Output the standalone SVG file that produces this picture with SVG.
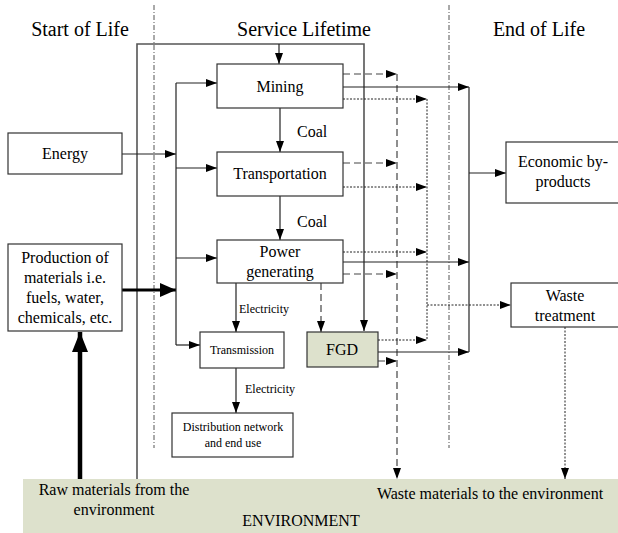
<svg xmlns="http://www.w3.org/2000/svg" width="618" height="533" viewBox="0 0 618 533" font-family="'Liberation Serif', 'DejaVu Serif', serif">
<style>
text{font-family:'Liberation Serif','DejaVu Serif',serif;fill:#000}
.t{font-size:20px}
.m{font-size:16px}
.s{font-size:12px}
.box{fill:#fff;stroke:#333;stroke-width:1.2}
.g{fill:#dde1cc;stroke:#333;stroke-width:1.2}
.ln{fill:none;stroke:#222;stroke-width:1.2}
.gr{fill:none;stroke:#555;stroke-width:1.6}
.da{fill:none;stroke:#444;stroke-width:1.2;stroke-dasharray:7 4}
.do{fill:none;stroke:#222;stroke-width:1;stroke-dasharray:2 1.5}
.dv{fill:none;stroke:#555;stroke-width:1;stroke-dasharray:5 2 1 2}
</style>
<defs>
<marker id="a" markerUnits="userSpaceOnUse" markerWidth="11" markerHeight="8" refX="11" refY="4" orient="auto"><path d="M0,0L11,4L0,8z" fill="#000"/></marker>
<marker id="b" markerUnits="userSpaceOnUse" markerWidth="16" markerHeight="14" refX="16" refY="7" orient="auto"><path d="M0,0L16,7L0,14z" fill="#000"/></marker>
<marker id="c" markerUnits="userSpaceOnUse" markerWidth="20" markerHeight="16" refX="20" refY="8" orient="auto"><path d="M0,0L20,8L0,16z" fill="#000"/></marker>
</defs>

<rect id="environment" x="23" y="479" width="595" height="54" fill="#dde1cc"/>

<g id="dividers">
<line class="dv" x1="154" y1="5" x2="154" y2="448"/>
<line class="dv" x1="449" y1="5" x2="449" y2="448"/>
</g>

<g id="titles">
<text class="t" x="80" y="36" text-anchor="middle">Start of Life</text>
<text class="t" x="304" y="36" text-anchor="middle">Service Lifetime</text>
<text class="t" x="539" y="36" text-anchor="middle">End of Life</text>
</g>

<g id="connectors">
<path class="gr" d="M137,479V44H364V331" marker-end="url(#a)"/>
<path class="ln" d="M279,44V64" marker-end="url(#a)"/>
<path class="ln" d="M122,154H176" marker-end="url(#a)"/>
<path d="M122,290H176" fill="none" stroke="#000" stroke-width="3" marker-end="url(#b)"/>
<path d="M80,479V332" fill="none" stroke="#000" stroke-width="4.5" marker-end="url(#c)"/>
<path class="ln" d="M176,83V345"/>
<path class="ln" d="M176,83H217" marker-end="url(#a)"/>
<path class="ln" d="M176,168H217" marker-end="url(#a)"/>
<path class="ln" d="M176,258H217" marker-end="url(#a)"/>
<path class="ln" d="M176,345H200" marker-end="url(#a)"/>
<path class="ln" d="M280,108V152" marker-end="url(#a)"/>
<path class="ln" d="M280,196V240" marker-end="url(#a)"/>
<path class="ln" d="M236,283V332" marker-end="url(#a)"/>
<path class="ln" d="M236,368V413" marker-end="url(#a)"/>
<path class="da" d="M321,283V332" marker-end="url(#a)"/>
<path class="da" d="M343,74H397" marker-end="url(#a)"/>
<path class="da" d="M343,163H397" marker-end="url(#a)"/>
<path class="da" d="M343,274H397" marker-end="url(#a)"/>
<path class="da" d="M378,361H397" marker-end="url(#a)"/>
<path class="da" d="M397,74V479" marker-end="url(#a)"/>
<path class="do" d="M343,99H427" marker-end="url(#a)"/>
<path class="do" d="M343,187H427" marker-end="url(#a)"/>
<path class="do" d="M343,252H427" marker-end="url(#a)"/>
<path class="do" d="M378,340H427" marker-end="url(#a)"/>
<path class="do" d="M427,99V340"/>
<path class="do" d="M427,305H511" marker-end="url(#a)"/>
<path class="do" d="M565,327V479" marker-end="url(#a)"/>
<path class="ln" d="M343,87H469" marker-end="url(#a)"/>
<path class="ln" d="M343,262H469" marker-end="url(#a)"/>
<path class="ln" d="M378,352H469" marker-end="url(#a)"/>
<path class="ln" d="M469,87V352"/>
<path class="ln" d="M469,173H506" marker-end="url(#a)"/>
</g>

<g id="labels">
<text class="m" x="297" y="137">Coal</text>
<text class="m" x="297" y="227">Coal</text>
<text class="s" x="239" y="313">Electricity</text>
<text class="s" x="245" y="393">Electricity</text>
</g>

<g id="energy"><rect class="box" x="8" y="133" width="114" height="41"/><text class="m" x="65" y="159" text-anchor="middle">Energy</text></g>
<g id="production"><rect class="box" x="8" y="244" width="114" height="87"/>
<text class="m" x="65" y="263" text-anchor="middle">Production of</text>
<text class="m" x="65" y="283" text-anchor="middle">materials i.e.</text>
<text class="m" x="65" y="303" text-anchor="middle">fuels, water,</text>
<text class="m" x="65" y="323" text-anchor="middle">chemicals, etc.</text></g>
<g id="mining"><rect class="box" x="217" y="64" width="126" height="44"/><text class="m" x="280" y="92" text-anchor="middle">Mining</text></g>
<g id="transportation"><rect class="box" x="217" y="152" width="126" height="44"/><text class="m" x="280" y="179" text-anchor="middle">Transportation</text></g>
<g id="power"><rect class="box" x="217" y="240" width="126" height="43"/><text class="m" x="280" y="257" text-anchor="middle">Power</text><text class="m" x="280" y="277" text-anchor="middle">generating</text></g>
<g id="transmission"><rect class="box" x="200" y="332" width="84" height="36"/><text class="s" x="242" y="354" text-anchor="middle">Transmission</text></g>
<g id="distribution"><rect class="box" x="172" y="413" width="121" height="44"/><text class="s" x="233" y="431" text-anchor="middle">Distribution network</text><text class="s" x="233" y="447" text-anchor="middle">and end use</text></g>
<g id="fgd"><rect class="g" x="307" y="332" width="71" height="35"/><text class="m" x="342" y="355" text-anchor="middle">FGD</text></g>
<g id="economic"><rect class="box" x="506" y="142" width="116" height="61"/><text class="m" x="563" y="167" text-anchor="middle">Economic by-</text><text class="m" x="563" y="187" text-anchor="middle">products</text></g>
<g id="waste"><rect class="box" x="511" y="283" width="111" height="44"/><text class="m" x="565" y="301" text-anchor="middle">Waste</text><text class="m" x="565" y="321" text-anchor="middle">treatment</text></g>

<g id="env-labels">
<text class="m" x="114" y="495" text-anchor="middle">Raw materials from the</text>
<text class="m" x="114" y="515" text-anchor="middle">environment</text>
<text class="m" x="301" y="526" text-anchor="middle">ENVIRONMENT</text>
<text class="m" x="490" y="499" text-anchor="middle">Waste materials to the environment</text>
</g>
</svg>
